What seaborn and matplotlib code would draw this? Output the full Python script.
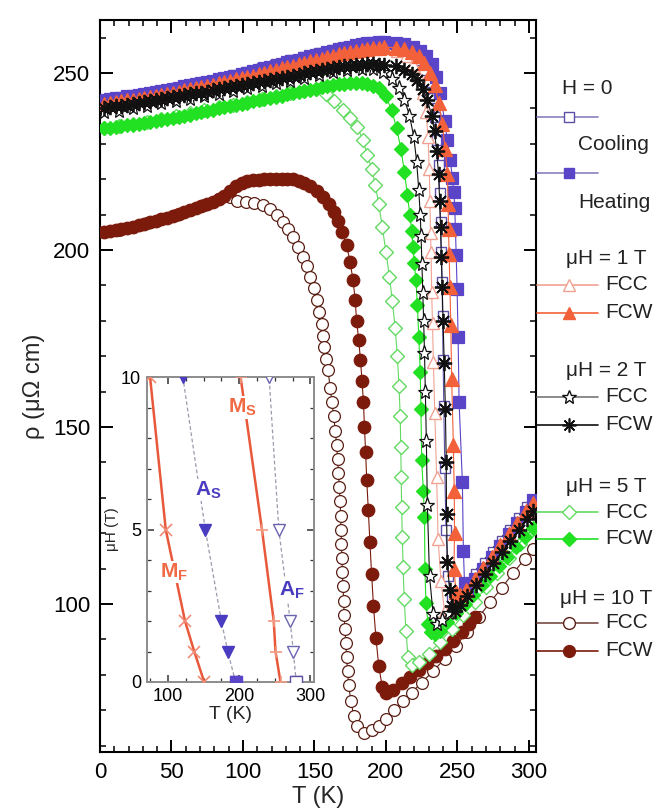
import matplotlib
matplotlib.use("Agg")
import matplotlib.pyplot as plt
import seaborn as sns

# ---------------------------------------------------------------- data
# temperature grids used for the low-temperature (martensite) branches
T_fine = [3, 7, 11, 15, 19, 23, 27, 31, 35, 39, 43, 47, 51, 55, 59, 63, 67,
          71, 75, 79, 83, 87, 91, 95, 99, 103, 107, 111, 115, 119, 123, 127,
          131, 135, 139, 143, 147, 151, 155, 159, 163, 167, 171, 175, 179,
          183, 187, 191, 195, 199]
T_coarse = [3, 13, 23, 33, 43, 53, 63, 73, 83, 93, 103, 113, 123, 133, 143,
            153, 163, 173, 183, 193]

# H = 0, heating
T_0_heat = T_fine + [207, 213, 219, 224, 228, 232, 235, 238, 241, 243, 245,
                     246.5, 247.5, 248.2, 248.6, 249.2, 249.8, 250.5, 251.2,
                     253.5, 254.2, 255, 257, 262, 268, 274, 280, 286, 292,
                     298, 303]
rho_0_heat = [242.4, 242.6, 242.9, 243.1, 243.4, 243.6, 243.9, 244.2, 244.4,
              244.7, 245.0, 245.3, 245.6, 245.9, 246.3, 246.6, 246.9, 247.3,
              247.6, 247.9, 248.3, 248.6, 248.9, 249.3, 249.7, 250.1, 250.5,
              250.9, 251.3, 251.7, 252.1, 252.6, 253.0, 253.4, 253.8, 254.2,
              254.7, 255.1, 255.5, 255.9, 256.3, 256.7, 257.1, 257.4, 257.8,
              258.1, 258.4, 258.6, 258.7, 258.8,
              258.6, 258.2, 257.4, 256.3, 254.8, 252.6, 249.0, 244.5, 236.5,
              231.0, 225.5, 220.5, 216.5, 212.0, 206.0, 198.5, 189.0, 175.5,
              157.0, 134.5, 115.0, 106.0, 104.2, 107.0, 110.0, 113.3, 116.5,
              119.8, 123.0, 126.0, 129.3]

# H = 0, cooling
T_0_cool = T_coarse + [203, 211, 218, 223, 227, 230, 232.5, 234.5, 236, 237,
                       237.6, 238.2, 238.8, 239.3, 239.6, 240, 240.5, 241.2,
                       242, 243.5, 246, 251, 257, 263, 269, 275, 281, 287,
                       293, 299, 303]
rho_0_cool = [242.2, 242.8, 243.5, 244.2, 244.9, 245.8, 246.6, 247.5, 248.4,
              249.4, 250.4, 251.4, 252.5, 253.6, 254.6, 255.6, 256.6, 257.4,
              258.0, 258.3, 258.2, 257.4, 255.8, 253.8, 251.0, 247.5, 243.0,
              237.5, 231.0, 224.0, 216.0, 208.0, 199.5, 191.0, 181.5, 169.0,
              156.0, 138.5, 121.0, 108.0, 102.0, 102.5, 105.3, 108.4, 111.5,
              114.6, 117.8, 121.0, 124.2, 127.3, 129.2]

# 1 T, field-cooled warming
T_1_fcw = T_fine + [207, 213, 218, 223, 227, 231, 234, 237, 239.5, 241.5, 243,
                    243.5, 243.8, 244.2, 244.8, 245.4, 246, 247.2, 247.8, 248,
                    247.6, 249, 252, 256, 262, 268, 274, 280, 286, 292, 298,
                    303]
rho_1_fcw = [241.3, 241.5, 241.8, 242.0, 242.3, 242.5, 242.8, 243.1, 243.3,
             243.6, 243.9, 244.2, 244.5, 244.8, 245.1, 245.4, 245.7, 246.1,
             246.4, 246.7, 247.1, 247.4, 247.8, 248.2, 248.5, 248.9, 249.3,
             249.7, 250.1, 250.5, 250.9, 251.3, 251.7, 252.1, 252.5, 252.9,
             253.3, 253.7, 254.1, 254.5, 254.9, 255.3, 255.6, 256.0, 256.3,
             256.6, 256.9, 257.1, 257.2, 257.3,
             257.2, 256.8, 256.0, 254.7, 252.8, 250.0, 246.5, 241.5, 235.5,
             228.5, 221.5, 213.0, 206.0, 199.0, 189.5, 178.8, 163.6, 145.0,
             132.0, 120.0, 110.0, 103.5, 102.5, 104.0, 107.0, 110.2, 113.4,
             116.6, 119.8, 123.0, 126.2, 128.6]

# 1 T, field-cooled cooling
T_1_fcc = T_coarse + [201, 208, 214, 219, 223, 226, 228, 229.5, 230.3, 230.8,
                      231.2, 231.6, 232, 232.6, 233.2, 234.2, 235.5, 236.5,
                      238.5, 241, 245, 250, 256, 262, 268, 274, 280, 286,
                      292, 298, 303]
rho_1_fcc = [241.2, 241.8, 242.5, 243.2, 244.0, 244.8, 245.6, 246.4, 247.3,
             248.2, 249.2, 250.2, 251.2, 252.2, 253.2, 254.2, 255.1, 255.9,
             256.6, 257.0,
             257.0, 256.2, 254.8, 252.5, 249.0, 244.5, 239.0, 232.0, 223.0,
             214.0, 204.7, 199.5, 188.2, 179.3, 168.4, 153.9, 136.0, 118.5,
             106.6, 98.0, 98.5, 101.0, 104.0, 107.2, 110.4, 113.6, 116.8,
             120.0, 123.2, 126.4, 128.8]

# 2 T, field-cooled warming
T_2_fcw = T_fine + [207, 213, 218, 222, 226, 229, 232, 234, 235.5, 236.8,
                    237.6, 238.2, 238.8, 239.4, 240, 240.8, 241.6, 242.2,
                    242.4, 243, 244.5, 246.5, 248.5, 252, 257, 263, 269, 275,
                    281, 287, 293, 299, 303]
rho_2_fcw = [240.2, 240.4, 240.6, 240.8, 241.1, 241.3, 241.6, 241.9, 242.1,
             242.4, 242.7, 242.9, 243.2, 243.5, 243.7, 244.0, 244.3, 244.5,
             244.8, 245.1, 245.4, 245.7, 246.0, 246.3, 246.6, 246.9, 247.2,
             247.5, 247.8, 248.1, 248.4, 248.7, 249.0, 249.3, 249.6, 249.9,
             250.2, 250.5, 250.8, 251.1, 251.4, 251.6, 251.9, 252.1, 252.3,
             252.4, 252.5, 252.5, 252.4, 252.3,
             251.9, 251.0, 249.8, 248.0, 245.5, 242.5, 238.0, 233.5, 228.0,
             221.5, 214.0, 206.5, 198.0, 189.5, 180.0, 168.0, 155.0, 140.0,
             125.4, 112.0, 104.0, 99.5, 98.0, 99.8, 102.3, 105.4, 108.5,
             111.6, 114.7, 117.8, 120.9, 124.0, 126.2]

# 2 T, field-cooled cooling
T_2_fcc = T_coarse[:19] + [191, 198, 204, 209, 213, 216.5, 219.5, 221.5, 223,
                           224, 224.6, 225.2, 225.8, 226.4, 227, 227.6, 228.3,
                           229, 230.5, 233, 235.5, 239, 244, 250, 256, 262,
                           268, 274, 280, 286, 292, 298, 303]
rho_2_fcc = [239.0, 239.4, 240.1, 240.8, 241.5, 242.1, 242.8, 243.5, 244.2,
             244.9, 245.7, 246.4, 247.2, 247.9, 248.7, 249.4, 250.2, 250.8,
             251.2,
             251.2, 250.2, 248.4, 245.8, 242.5, 238.0, 232.0, 225.0, 217.0,
             210.0, 204.0, 196.0, 188.0, 180.0, 171.0, 160.0, 146.0, 128.0,
             108.0, 97.3, 94.5, 95.5, 97.5, 100.2, 103.3, 106.4, 109.5, 112.6,
             115.7, 118.8, 121.9, 125.0, 127.0]

# 5 T, field-cooled warming
T_5_fcw = T_fine[:49] + [200, 204, 207.5, 210.5, 213, 215, 216.8, 218, 219,
                         219.8, 221, 222, 223, 224, 224.5, 225, 226.2, 227,
                         227.3, 228, 229.5, 231.5, 234, 238, 243, 249, 255,
                         261, 267, 273, 279, 285, 291, 297, 303]
rho_5_fcw = [234.5, 234.6, 234.8, 235.0, 235.2, 235.4, 235.7, 236.0, 236.2,
             236.5, 236.8, 237.1, 237.4, 237.7, 238.0, 238.3, 238.6, 239.0,
             239.3, 239.6, 240.0, 240.3, 240.6, 241.0, 241.3, 241.6, 242.0,
             242.3, 242.6, 243.0, 243.3, 243.6, 244.0, 244.3, 244.6, 245.0,
             245.3, 245.6, 246.0, 246.3, 246.6, 246.8, 247.0, 247.1, 247.2,
             247.2, 246.9, 246.4, 245.8,
             243.5, 239.5, 234.5, 228.5, 222.0, 215.5, 210.0, 205.4, 201.0,
             196.3, 191.6, 184.6, 175.5, 165.6, 155.2, 140.8, 132.0, 124.6,
             110.0, 100.2, 94.5, 92.0, 91.5, 92.5, 94.8, 97.4, 100.0, 102.6,
             105.3, 108.0, 110.7, 113.4, 116.1, 118.8, 121.5]

# 5 T, field-cooled cooling
T_5_fcc = T_coarse[:15] + [151, 158, 164, 170, 175, 180, 184, 187, 190, 192.5,
                           195, 197.5, 200, 202.5, 204.5, 206.5, 208, 209.2,
                           210, 210.4, 210.7, 211, 211.5, 212, 212.8, 214,
                           215.5, 218, 223, 230, 238, 246, 254, 262, 270, 278,
                           286, 294, 302]
rho_5_fcc = [234.4, 235.0, 235.6, 236.3, 237.1, 237.9, 238.7, 239.5, 240.3,
             241.1, 241.9, 242.7, 243.5, 244.3, 245.0,
             245.4, 244.0, 242.0, 239.5, 237.3, 234.8, 231.0, 227.0, 223.0,
             218.5, 213.0, 206.5, 199.5, 192.5, 185.5, 178.0, 170.0, 161.5,
             153.0, 144.5, 136.0, 127.5, 119.0, 110.5, 101.5, 92.5, 85.0,
             82.8, 83.5, 86.0, 89.3, 93.0, 96.8, 100.7, 104.7, 108.8, 112.9,
             117.0, 121.0]

# 10 T, field-cooled warming
T_10_fcw = T_fine[:37] + [152, 156, 160, 163.5, 166.5, 169.5, 172.5, 175, 177,
                          178.5, 179.5, 181, 182.2, 183.3, 184.3, 185, 185.8,
                          186.6, 187.7, 188.8, 190, 191.3, 193, 195, 197.5,
                          200, 205, 211, 217, 223, 229, 235, 241, 247, 253,
                          258, 262]
rho_10_fcw = [205.0, 205.3, 205.6, 205.9, 206.2, 206.6, 207.0, 207.4, 207.8,
              208.3, 208.7, 209.2, 209.7, 210.2, 210.8, 211.3, 211.8, 212.4,
              213.0, 213.7, 214.4, 215.2, 216.6, 218.2, 219.0, 219.5, 219.8,
              219.9, 220.0, 220.1, 220.2, 220.2, 220.1, 220.0, 219.6, 219.0,
              218.2,
              216.7, 215.0, 213.0, 210.8, 208.3, 205.0, 201.5, 196.5, 191.5,
              186.0, 180.0, 174.5, 169.0, 163.0, 157.0, 150.0, 143.0, 135.0,
              126.5, 117.5, 108.5, 99.5, 90.5, 82.5, 76.5, 74.8, 75.8, 77.6,
              79.4, 81.3, 83.3, 85.3, 87.4, 89.5, 92.0, 94.3, 96.3]

# 10 T, field-cooled cooling
T_10_fcc = T_coarse[:9] + [91, 96, 102, 108, 114, 119, 124, 128, 131.5, 135,
                           138.5, 142, 144.5, 147, 149.5, 151.5, 153.3, 155,
                           156, 157, 158.3, 159.6, 161, 162.3, 163.5, 164.6,
                           165.5, 166.2, 166.8, 167.4, 168, 168.3, 168.6,
                           168.9, 169.2, 169.6, 170, 170.4, 170.8, 171.3,
                           171.9, 172.5, 173.2, 174, 175.5, 177.5, 180, 184.5,
                           190, 195, 200, 206, 212, 218, 225, 233, 241, 249,
                           257, 265, 273, 281, 289, 297, 303]
rho_10_fcc = [205.0, 205.8, 206.6, 207.6, 208.7, 210.0, 211.3, 212.7, 214.4,
              215.0, 214.0, 213.5, 213.2, 212.6, 211.5, 209.8, 208.0, 206.0,
              203.8, 201.0, 198.1, 195.5, 192.5, 189.3, 185.9, 182.5, 179.0,
              175.8, 172.7, 169.3, 166.0, 161.0, 157.0, 153.0, 149.0, 145.0,
              141.0, 137.0, 133.0, 129.0, 125.0, 121.0, 117.0, 113.0, 109.0,
              105.0, 101.0, 97.0, 93.0, 89.0, 85.0, 81.0, 77.0, 72.5, 68.5,
              65.5, 63.5, 64.3, 65.6, 67.5, 70.2, 72.6, 75.0, 77.8, 81.0,
              84.5, 88.2, 92.2, 96.4, 100.5, 104.6, 108.7, 112.7, 115.5]

# inset: characteristic temperatures vs field
H_field = [0, 1, 2, 5, 10]
T_Mf = [151, 137, 124, 97, 75]
T_As = [195, 184, 175, 152.5, 121]
T_Ms = [258, 251, 248.5, 232, 202]
T_Af = [280, 276, 271.6, 255.6, 242]

main_xticks = [0, 50, 100, 150, 200, 250, 300]
main_yticks = [100, 150, 200, 250]
inset_xticks = [100, 200, 300]
inset_yticks = [0, 5, 10]

# ---------------------------------------------------------------- style
sns.set_theme(style="ticks")
plt.rcParams["font.family"] = ["Liberation Sans", "DejaVu Sans"]
plt.rcParams["mathtext.fontset"] = "custom"
plt.rcParams["mathtext.rm"] = "Liberation Sans"
plt.rcParams["mathtext.bf"] = "Liberation Sans:bold"
plt.rcParams["mathtext.it"] = "Liberation Sans:italic"

PURPLE = "#5a44c8"
PURPLE_OPEN = "#5b4fa6"
ORANGE = "#f2613a"
PINK = "#f0a292"
BLACK = "#111111"
GREEN = "#22e022"
GREEN_OPEN = "#62da62"
BROWN = "#7c1a0c"
BROWN_OPEN = "#5a1e14"

series = [
    # T, rho, marker, size, face, edge, line colour, edge width, zorder
    (T_10_fcc, rho_10_fcc, "o", 8.5, "white", BROWN_OPEN, BROWN_OPEN, 0.9, 2),
    (T_10_fcw, rho_10_fcw, "o", 9.0, BROWN, BROWN, BROWN, 0.9, 3),
    (T_5_fcc, rho_5_fcc, "D", 7.0, "white", GREEN_OPEN, GREEN_OPEN, 1.0, 4),
    (T_5_fcw, rho_5_fcw, "D", 7.5, GREEN, GREEN, GREEN, 0.9, 5),
    (T_0_cool, rho_0_cool, "s", 7.5, "white", PURPLE_OPEN, PURPLE_OPEN, 1.0, 6),
    (T_1_fcc, rho_1_fcc, "^", 9.0, "white", PINK, PINK, 1.0, 7),
    (T_2_fcc, rho_2_fcc, "*", 11.0, "white", BLACK, BLACK, 0.9, 8),
    (T_0_heat, rho_0_heat, "s", 8.0, PURPLE, PURPLE, PURPLE, 0.9, 9),
    (T_1_fcw, rho_1_fcw, "^", 9.5, ORANGE, ORANGE, ORANGE, 0.9, 10),
    (T_2_fcw, rho_2_fcw, (8, 2, 0), 11.0, BLACK, BLACK, BLACK, 1.3, 12),
]

W, H = 667, 810
fig = plt.figure(figsize=(W / 100, H / 100), dpi=100)
fig.patch.set_facecolor("white")

# ---------------------------------------------------------------- main panel
ax = fig.add_axes([100 / W, 58 / H, 436 / W, 732 / H])
for T, rho, mk, ms, fc, ec, lc, mew, z in series:
    sns.lineplot(x=T, y=rho, ax=ax, sort=False, estimator=None, color=lc,
                 linewidth=0.8, marker=mk, markersize=ms,
                 markerfacecolor=fc, markeredgecolor=ec,
                 markeredgewidth=mew, zorder=z)

ax.set_xlim(0, 305)
ax.set_ylim(58.2, 265)
ax.set_xticks(main_xticks)
ax.set_xticks(range(10, 305, 10), minor=True)
ax.set_yticks(main_yticks)
ax.set_yticks(range(60, 265, 10), minor=True)
ax.tick_params(which="both", direction="in", top=True, right=True,
               colors="black", labelsize=16)
ax.tick_params(which="major", length=9, width=1.4, pad=7)
ax.tick_params(which="minor", length=4.5, width=1.1)
for sp in ax.spines.values():
    sp.set_linewidth(1.5)
    sp.set_color("black")
ax.set_xlabel("T (K)", fontsize=17, labelpad=2)
ax.set_ylabel("ρ (μΩ cm)", fontsize=17, labelpad=6)

# ---------------------------------------------------------------- inset
iax = fig.add_axes([146.5 / W, 1 - 682 / H, 167.5 / W, 305 / H])
iax.set_facecolor("white")
sns.lineplot(x=T_Mf, y=H_field, ax=iax, sort=False, estimator=None,
             color="#e8583a", linewidth=1.8, marker="x", markersize=8,
             markeredgecolor="#f08a72", markeredgewidth=1.2, zorder=3)
sns.lineplot(x=T_Ms, y=H_field, ax=iax, sort=False, estimator=None,
             color="#e8583a", linewidth=1.8, marker="+", markersize=9,
             markeredgecolor="#f09a82", markeredgewidth=1.2, zorder=3)
sns.lineplot(x=T_As, y=H_field, ax=iax, sort=False, estimator=None,
             color="#9a9aac", linewidth=0.9, linestyle=(0, (3, 2)),
             marker="v", markersize=9, markerfacecolor="#4a3cc0",
             markeredgecolor="#4a3cc0", markeredgewidth=1.0, zorder=3)
sns.lineplot(x=T_Af, y=H_field, ax=iax, sort=False, estimator=None,
             color="#9a9aac", linewidth=0.9, linestyle=(0, (3, 2)),
             marker="v", markersize=9, markerfacecolor="white",
             markeredgecolor="#6a64b0", markeredgewidth=1.0, zorder=3)
# zero-field points are the H = 0 cooling/heating symbols
iax.plot(T_As[0], H_field[0], marker="s", ms=8, color=PURPLE, zorder=4)
iax.plot(T_Af[0], H_field[0], marker="s", ms=8, mfc="white",
         mec=PURPLE_OPEN, mew=1.0, zorder=4)

lab = dict(fontsize=15, fontweight="bold", ha="center", va="center",
           zorder=5, bbox=dict(facecolor="white", edgecolor="none", pad=0.5))
iax.text(205, 9.0, r"M$_\mathbf{S}$", color="#f06a45", **lab)
iax.text(157, 6.3, r"A$_\mathbf{S}$", color="#4a3cc0", **lab)
iax.text(108, 3.6, r"M$_\mathbf{F}$", color="#f06a45", **lab)
iax.text(274, 3.0, r"A$_\mathbf{F}$", color="#4a3cc0", **lab)

iax.set_xlim(70, 305)
iax.set_ylim(0, 10)
iax.set_xticks(inset_xticks)
iax.set_xticks([75, 125, 150, 175, 225, 250, 275], minor=True)
iax.set_yticks(inset_yticks)
iax.set_yticks([1, 2, 3, 4, 6, 7, 8, 9], minor=True)
iax.tick_params(which="both", direction="in", top=True, right=True,
                colors="#333333", labelsize=13, labelcolor="black")
iax.tick_params(which="major", length=5, width=1.1, pad=4)
iax.tick_params(which="minor", length=3, width=0.9)
for sp in iax.spines.values():
    sp.set_linewidth(1.4)
    sp.set_color("#8c8c8c")
iax.set_xlabel("T (K)", fontsize=14, labelpad=1)
iax.set_ylabel("μH (T)", fontsize=11, labelpad=1)

# ---------------------------------------------------------------- key
lax = fig.add_axes([536 / W, 0, 131 / W, 1])
lax.set_xlim(536, 667)
lax.set_ylim(810, 0)
lax.axis("off")


def key(y, mk, ms, fc, ec, lc, mew=1.0):
    lax.plot([537, 598], [y, y], color=lc, lw=1.2, zorder=1)
    lax.plot([569], [y], marker=mk, ms=ms, mfc=fc, mec=ec, mew=mew,
             lw=0, zorder=2)


txt = dict(fontsize=15, color="#222222", va="center")
lax.text(587, 88, "H = 0", ha="center", **txt)
key(116.5, "s", 7.5, "white", PURPLE_OPEN, "#8a80c0")
lax.text(578, 145, "Cooling", ha="left", **txt)
key(172.7, "s", 7.5, PURPLE, PURPLE, "#8a80c0")
lax.text(578, 202, "Heating", ha="left", **txt)

lax.text(606, 258, "μH = 1 T", ha="center", **txt)
key(285, "^", 9, "white", PINK, PINK)
lax.text(605, 285, "FCC", ha="left", **txt)
key(313, "^", 9, ORANGE, ORANGE, ORANGE)
lax.text(605, 313, "FCW", ha="left", **txt)

lax.text(606, 371, "μH = 2 T", ha="center", **txt)
key(397, "*", 10, "white", BLACK, "#777777")
lax.text(605, 397, "FCC", ha="left", **txt)
key(425, (8, 2, 0), 10, BLACK, BLACK, BLACK, 1.2)
lax.text(605, 425, "FCW", ha="left", **txt)

lax.text(606, 487, "μH = 5 T", ha="center", **txt)
key(512, "D", 7, "white", GREEN_OPEN, GREEN_OPEN)
lax.text(605, 512, "FCC", ha="left", **txt)
key(539, "D", 7, GREEN, GREEN, GREEN)
lax.text(605, 539, "FCW", ha="left", **txt)

lax.text(606, 598, "μH = 10 T", ha="center", **txt)
key(623, "o", 8.5, "white", BROWN_OPEN, "#7a4a44")
lax.text(605, 623, "FCC", ha="left", **txt)
key(651, "o", 8.5, BROWN, BROWN, BROWN)
lax.text(605, 651, "FCW", ha="left", **txt)

fig.savefig("out.png", dpi=100, facecolor="white")
